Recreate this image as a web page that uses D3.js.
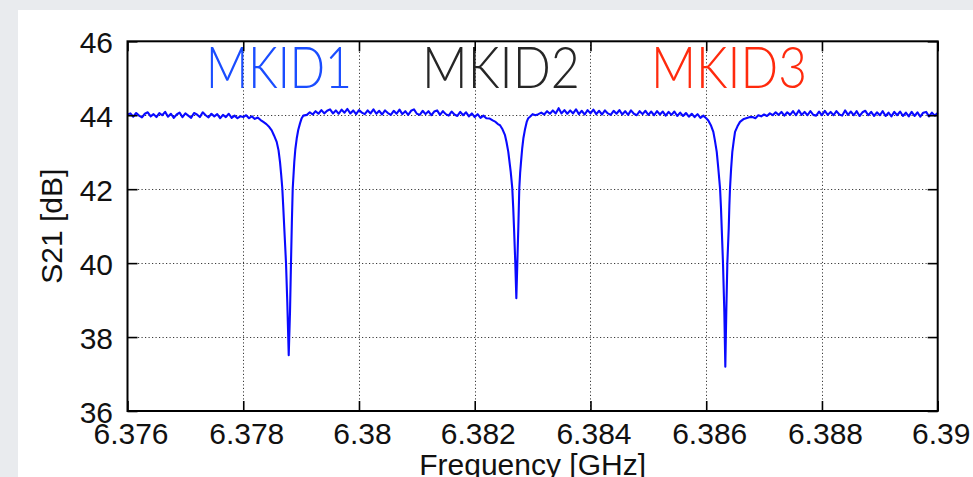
<!DOCTYPE html>
<html>
<head>
<meta charset="utf-8">
<script src="https://cdn.jsdelivr.net/npm/d3@7/dist/d3.min.js"></script>
<style>
  html, body { margin: 0; padding: 0; background: #e9ebee; }
  svg { display: block; }
</style>
</head>
<body>
<svg id="chart" width="973" height="477"></svg>
<script>
// Transmission sweep across three resonators: frequency (GHz) and S21 (dB)
const freqGHz = [
  // below MKID1
  6.37600, 6.37605, 6.37610, 6.37615, 6.37620, 6.37625, 6.37630, 6.37635, 6.37640, 6.37645,
  6.37650, 6.37655, 6.37660, 6.37665, 6.37670, 6.37675, 6.37680, 6.37685, 6.37690, 6.37695,
  6.37700, 6.37705, 6.37710, 6.37715, 6.37720, 6.37725, 6.37730, 6.37735, 6.37740, 6.37745,
  6.37750, 6.37755, 6.37760, 6.37765, 6.37770, 6.37775, 6.37780, 6.37785, 6.37790, 6.37795,
  // MKID1 resonance
  6.37800, 6.37805, 6.37810, 6.37815, 6.37820, 6.37825, 6.37830, 6.378347, 6.37840, 6.37845,
  6.378492, 6.37853, 6.378578, 6.37861, 6.378635, 6.378655, 6.378675, 6.378692, 6.378709, 6.378725,
  6.378739, 6.378761, 6.378786, 6.378808, 6.378825, 6.378840, 6.378855, 6.378882, 6.378900, 6.378924,
  6.378950, 6.378981, 6.37901, 6.379038,
  // between MKID1 and MKID2
  6.37910, 6.37915, 6.37920, 6.37925, 6.37930, 6.37935, 6.37940, 6.37945, 6.37950, 6.37955,
  6.37960, 6.37965, 6.37970, 6.37975, 6.37980, 6.37985, 6.37990, 6.37995, 6.38000, 6.38005,
  6.38010, 6.38015, 6.38020, 6.38025, 6.38030, 6.38035, 6.38040, 6.38045, 6.38050, 6.38055,
  6.38060, 6.38065, 6.38070, 6.38075, 6.38080, 6.38085, 6.38090, 6.38095, 6.38100, 6.38105,
  6.38110, 6.38115, 6.38120, 6.38125, 6.38130, 6.38135, 6.38140, 6.38145, 6.38150, 6.38155,
  6.38160, 6.38165, 6.38170, 6.38175, 6.38180, 6.38185, 6.38190, 6.38195, 6.38200, 6.38205,
  6.38210, 6.38215, 6.38220,
  // MKID2 resonance
  6.38226, 6.38231, 6.38236, 6.38240, 6.382437, 6.38248, 6.382523, 6.38255, 6.38258, 6.382622,
  6.382649, 6.382665, 6.382679, 6.382701, 6.382719, 6.382736, 6.382753, 6.382770, 6.382785, 6.382800,
  6.382820, 6.382840, 6.382870, 6.382898, 6.382925, 6.382955, 6.38300, 6.38305,
  // between MKID2 and MKID3
  6.38310, 6.38315, 6.38320, 6.38325, 6.38330, 6.38335, 6.38340, 6.38345, 6.38350, 6.38355,
  6.38360, 6.38365, 6.38370, 6.38375, 6.38380, 6.38385, 6.38390, 6.38395, 6.38400, 6.38405,
  6.38410, 6.38415, 6.38420, 6.38425, 6.38430, 6.38435, 6.38440, 6.38445, 6.38450, 6.38455,
  6.38460, 6.38465, 6.38470, 6.38475, 6.38480, 6.38485, 6.38490, 6.38495, 6.38500, 6.38505,
  6.38510, 6.38515, 6.38520, 6.38525, 6.38530, 6.38535, 6.38540, 6.38545, 6.38550, 6.38555,
  6.38560, 6.38565, 6.38570, 6.38575, 6.38580, 6.38585, 6.38590, 6.38595, 6.38600,
  // MKID3 resonance
  6.386036, 6.38608, 6.386123, 6.38615, 6.386182, 6.386209, 6.386239, 6.386255, 6.386268, 6.386290,
  6.386313, 6.386330, 6.386347, 6.386365, 6.386389, 6.386400, 6.386411, 6.386430, 6.386451, 6.386475,
  6.386498, 6.38654, 6.386584, 6.38665, 6.386757,
  // above MKID3
  6.38680, 6.38685, 6.38690, 6.38695, 6.38700, 6.38705, 6.38710, 6.38715, 6.38720, 6.38725,
  6.38730, 6.38735, 6.38740, 6.38745, 6.38750, 6.38755, 6.38760, 6.38765, 6.38770, 6.38775,
  6.38780, 6.38785, 6.38790, 6.38795, 6.38800, 6.38805, 6.38810, 6.38815, 6.38820, 6.38825,
  6.38830, 6.38835, 6.38840, 6.38845, 6.38850, 6.38855, 6.38860, 6.38865, 6.38870, 6.38875,
  6.38880, 6.38885, 6.38890, 6.38895, 6.38900, 6.38905, 6.38910, 6.38915, 6.38920, 6.38925,
  6.38930, 6.38935, 6.38940, 6.38945, 6.38950, 6.38955, 6.38960, 6.38965, 6.38970, 6.38975,
  6.38980, 6.38985, 6.38990, 6.38995, 6.39000
];

const s21dB = [
  // below MKID1
  44.02, 44.05, 43.96, 44.06, 43.99, 43.94, 44.04, 44.08, 43.97, 44.03,
  43.95, 44.06, 44.00, 44.09, 43.96, 44.04, 43.93, 44.02, 44.07, 43.95,
  44.05, 43.99, 43.93, 44.06, 44.02, 43.95, 44.08, 44.00, 43.94, 44.04,
  43.97, 44.03, 43.92, 44.01, 43.95, 44.04, 43.93, 43.99, 43.92, 43.97,
  // MKID1 resonance
  43.95, 44.00, 43.92, 43.97, 43.90, 43.94, 43.87, 43.82, 43.76, 43.68,
  43.59, 43.46, 43.28, 43.05, 42.74, 42.40, 42.02, 41.50, 40.95, 40.45,
  40.00, 38.95, 37.51, 38.68, 40.00, 41.10, 42.02, 42.74, 43.08, 43.37,
  43.60, 43.78, 43.92, 43.99,
  // between MKID1 and MKID2
  44.01, 44.08, 44.02, 44.11, 44.04, 44.14, 44.05, 44.12, 44.16, 44.05,
  44.13, 44.04, 44.15, 44.07, 44.17, 44.05, 44.13, 44.03, 44.14, 44.07,
  44.03, 44.13, 44.05, 44.16, 44.04, 44.12, 44.02, 44.13, 44.06, 44.01,
  44.12, 44.04, 44.15, 44.03, 44.11, 44.01, 44.12, 44.16, 44.04, 44.01,
  44.12, 44.03, 44.11, 44.00, 44.10, 44.13, 44.01, 44.11, 44.03, 43.99,
  44.10, 44.02, 43.98, 44.09, 44.00, 44.08, 43.97, 44.05, 43.95, 44.03,
  43.93, 43.99, 43.92,
  // MKID2 resonance
  43.91, 43.86, 43.82, 43.76, 43.73, 43.62, 43.46, 43.27, 43.01, 42.47,
  42.02, 41.50, 40.95, 40.00, 39.05, 40.00, 40.95, 42.02, 42.45, 42.74,
  43.10, 43.37, 43.63, 43.82, 43.92, 43.96, 44.03, 44.00,
  // between MKID2 and MKID3
  44.03, 44.07, 44.02, 44.11, 44.04, 44.13, 44.05, 44.19, 44.05, 44.14,
  44.04, 44.13, 44.05, 44.16, 44.03, 44.12, 44.02, 44.14, 44.05, 44.15,
  44.03, 44.12, 44.02, 44.13, 44.05, 44.01, 44.12, 44.04, 44.14, 44.02,
  44.11, 44.01, 44.13, 44.04, 44.00, 44.11, 44.03, 44.12, 44.01, 44.10,
  44.00, 44.11, 44.02, 44.10, 43.99, 44.09, 44.01, 44.10, 43.98, 44.07,
  43.98, 44.06, 43.96, 44.04, 43.95, 44.03, 43.93, 43.99, 43.92,
  // MKID3 resonance
  43.86, 43.73, 43.55, 43.32, 43.01, 42.56, 42.02, 41.50, 40.94, 40.00,
  38.68, 37.20, 38.68, 40.00, 40.94, 41.55, 42.02, 42.55, 43.01, 43.30,
  43.55, 43.70, 43.82, 43.90, 43.95,
  // above MKID3
  43.95, 43.92, 44.00, 43.97, 44.02, 43.98, 44.05, 44.00, 44.08, 44.01,
  44.09, 43.99, 44.08, 44.01, 44.11, 44.00, 44.13, 44.01, 44.09, 44.00,
  44.11, 44.01, 43.99, 44.10, 44.00, 44.12, 44.01, 44.09, 44.00, 44.11,
  44.02, 43.99, 44.13, 44.01, 44.10, 44.00, 44.11, 43.98, 44.08, 44.12,
  44.00, 44.09, 43.98, 44.08, 44.00, 44.11, 43.98, 44.07, 43.97, 44.09,
  44.00, 44.10, 43.98, 44.07, 43.97, 44.09, 43.98, 44.08, 43.96, 44.07,
  44.09, 43.97, 44.07, 43.99, 44.06
];

const xTickValues = [6.376, 6.378, 6.380, 6.382, 6.384, 6.386, 6.388, 6.390];
const xTickLabels = ["6.376", "6.378", "6.38", "6.382", "6.384", "6.386", "6.388", "6.39"];
const yTickValues = [36, 38, 40, 42, 44, 46];
const yTickLabels = ["36", "38", "40", "42", "44", "46"];

const resonatorNames = ["MKID1", "MKID2", "MKID3"];
const resonatorColors = ["#1a4dff", "#262626", "#ff2a0d"];

const svg = d3.select("#chart");
const W = 973, H = 477;
const plot = { left: 127.5, right: 937.7, top: 41.3, bottom: 411 };

// slide background and white panel
svg.append("rect").attr("width", W).attr("height", H).attr("fill", "#e9ebee");
svg.append("rect").attr("x", 18).attr("y", 10).attr("width", W - 18).attr("height", H - 10).attr("fill", "#ffffff");

const x = d3.scaleLinear().domain([6.376, 6.390]).range([plot.left, plot.right]);
const y = d3.scaleLinear().domain([36, 46]).range([plot.bottom, plot.top]);

// dotted grid
const grid = svg.append("g").attr("stroke", "#3a3a3a").attr("stroke-width", 1).attr("stroke-dasharray", "1.2,2.3");
grid.selectAll("line.gx").data(xTickValues.slice(1, -1)).join("line")
  .attr("x1", d => Math.round(x(d)) + 0.5).attr("x2", d => Math.round(x(d)) + 0.5)
  .attr("y1", plot.top).attr("y2", plot.bottom);
grid.selectAll("line.gy").data(yTickValues.slice(1, -1)).join("line")
  .attr("y1", d => Math.round(y(d)) + 0.5).attr("y2", d => Math.round(y(d)) + 0.5)
  .attr("x1", plot.left).attr("x2", plot.right);

// resonator labels
const labelSpans = [[206, 146], [422, 158], [651, 156]];
svg.append("g").selectAll("text").data(resonatorNames).join("text")
  .attr("x", (d, i) => labelSpans[i][0])
  .attr("y", 88.3)
  .attr("textLength", (d, i) => labelSpans[i][1])
  .attr("lengthAdjust", "spacingAndGlyphs")
  .attr("fill", (d, i) => resonatorColors[i])
  .style("font-family", "Lato, 'Open Sans', sans-serif")
  .style("font-weight", 300)
  .style("font-size", "58px")
  .text(d => d);

// S21 trace
const pts = freqGHz.map((f, i) => [f, s21dB[i]]);
svg.append("path")
  .datum(pts)
  .attr("fill", "none")
  .attr("stroke", "#0a0aff")
  .attr("stroke-width", 2.1)
  .attr("stroke-linejoin", "round")
  .attr("d", d3.line().x(d => x(d[0])).y(d => y(d[1])));

// axes with inward ticks
const tickFont = "'Liberation Sans', Arial, Helvetica, sans-serif";
const axB = svg.append("g").attr("transform", `translate(0,${plot.bottom})`)
  .call(d3.axisBottom(x).tickValues(xTickValues).tickSize(-10).tickFormat((d, i) => xTickLabels[i]));
const axT = svg.append("g").attr("transform", `translate(0,${plot.top})`)
  .call(d3.axisTop(x).tickValues(xTickValues).tickSize(-10).tickFormat(""));
const axL = svg.append("g").attr("transform", `translate(${plot.left},0)`)
  .call(d3.axisLeft(y).tickValues(yTickValues).tickSize(-10).tickFormat((d, i) => yTickLabels[i]));
const axR = svg.append("g").attr("transform", `translate(${plot.right},0)`)
  .call(d3.axisRight(y).tickValues(yTickValues).tickSize(-10).tickFormat(""));

[axB, axT, axL, axR].forEach(a => {
  a.select(".domain").remove();
  a.selectAll(".tick line").attr("stroke", "#000").attr("stroke-width", 1.6);
});
axB.selectAll(".tick text")
  .attr("y", 32.5).attr("dy", null).attr("dx", 3)
  .attr("fill", "#111").style("font-family", tickFont).style("font-size", "30px");
axL.selectAll(".tick text")
  .attr("x", -14.5).attr("dy", "0.38em")
  .attr("fill", "#111").style("font-family", tickFont).style("font-size", "30px");

// frame
svg.append("rect")
  .attr("x", plot.left).attr("y", plot.top)
  .attr("width", plot.right - plot.left).attr("height", plot.bottom - plot.top)
  .attr("fill", "none").attr("stroke", "#000").attr("stroke-width", 2);

// axis titles
svg.append("text")
  .attr("transform", `translate(62,${(plot.top + plot.bottom) / 2}) rotate(-90)`)
  .attr("text-anchor", "middle")
  .attr("fill", "#111").style("font-family", tickFont).style("font-size", "30px")
  .text("S21 [dB]");
svg.append("text")
  .attr("x", (plot.left + plot.right) / 2).attr("y", 475)
  .attr("text-anchor", "middle")
  .attr("fill", "#111").style("font-family", tickFont).style("font-size", "30px")
  .text("Frequency [GHz]");
</script>
</body>
</html>
